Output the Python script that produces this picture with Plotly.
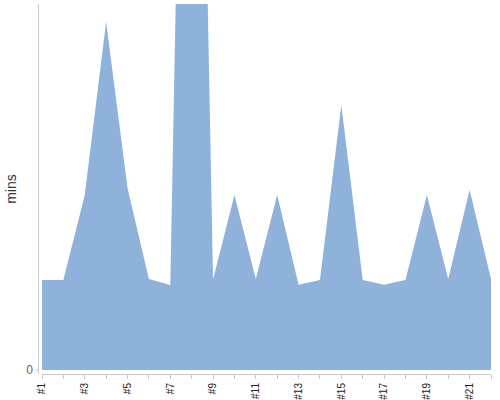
import plotly.graph_objects as go

categories = [f"#{i}" for i in range(1, 23)]
minutes = [30, 30, 58.3, 116.1, 60.7, 30.3, 28.3, 400, 30.2, 58.3, 30.3, 58.3,
           28.4, 30, 88.3, 30, 28.4, 30, 58.3, 30.3, 60, 30.3]
tick_labels = [c if i % 2 == 0 else "" for i, c in enumerate(categories)]

fig = go.Figure()
fig.add_trace(go.Scatter(
    x=categories, y=minutes, mode="lines", fill="tozeroy",
    line=dict(width=0, color="#8fb2db"), fillcolor="#8fb2db",
    hoverinfo="skip", showlegend=False,
))

font = "Liberation Sans, Arial, sans-serif"
fig.update_layout(
    width=500, height=400,
    margin=dict(l=42, r=9, t=4, b=26),
    paper_bgcolor="white", plot_bgcolor="white",
    font=dict(family=font),
    xaxis=dict(
        type="category", range=[0, 21], tickmode="array",
        tickvals=categories, ticktext=tick_labels, tickangle=-90,
        ticks="outside", ticklen=4, tickcolor="#c8c8c8",
        showline=True, linecolor="#c8c8c8", linewidth=1,
        showgrid=False, zeroline=False, automargin=False,
        tickfont=dict(size=10, color="#222222", family=font),
    ),
    yaxis=dict(
        range=[-1.33, 122], tickmode="array", tickvals=[0], ticktext=["0"],
        showgrid=False, zeroline=False, showline=False, ticks="",
        automargin=False, ticklabelstandoff=8,
        tickfont=dict(size=12, color="#666666", family=font),
        title=dict(text="mins", font=dict(size=14, color="#333333", family=font), standoff=6),
    ),
    shapes=[
        dict(type="line", xref="paper", yref="paper", x0=-0.008, x1=-0.008,
             y0=0, y1=1, line=dict(color="#c8c8c8", width=1)),
        dict(type="line", xref="paper", yref="y", x0=-0.015, x1=-0.008,
             y0=0, y1=0, line=dict(color="#c8c8c8", width=1)),
    ],
)
fig.write_html("out.html", config={"displayModeBar": False},
               post_script="document.body.style.margin='0';")
